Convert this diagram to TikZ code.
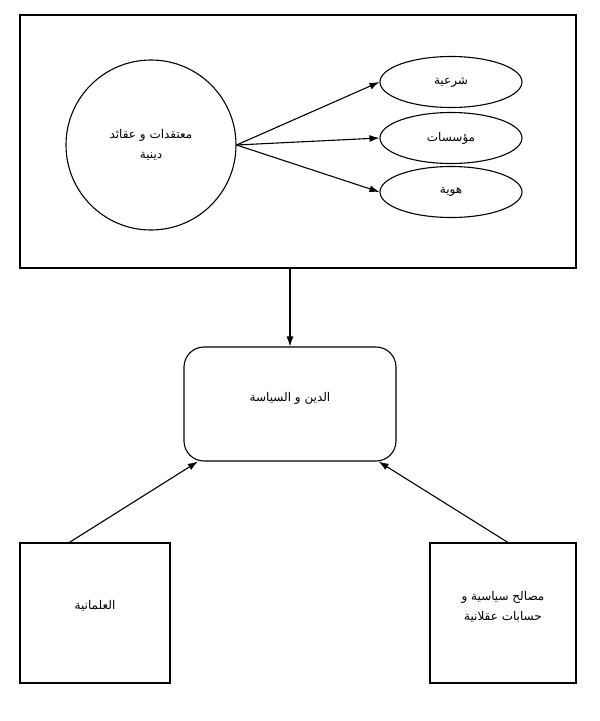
\documentclass[tikz,border=0pt]{standalone}
\usepackage{fontspec}
\TeXXeTstate=1
\newfontfamily\arabicfont[Script=Arabic]{DejaVu Sans}
\usetikzlibrary{shapes.geometric, arrows.meta}

\begin{document}
\begin{tikzpicture}[x=1pt, y=-1pt, >={Latex[length=10pt, width=7pt]},
    every node/.style={font=\arabicfont\fontsize{12}{20}\selectfont, align=center}]

    %--------------------%
    % Parameters
    %--------------------%
    \def\linethic{1.1pt}
    \def\ellx{451}
    \def\ellw{142}
    \def\ellh{51}

    \useasboundingbox (0,0) rectangle (600,721);

    %--------------------%
    % Top Frame
    %--------------------%
    \node[draw, rectangle, minimum width=556, minimum height=253, line width=\linethic] (frame) at (298,141.5) {};

    % Beliefs circle
    \node[draw, circle, minimum size=170, line width=\linethic] (belief) at (151,145) {\beginR معتقدات و عقائد\endR\\\beginR دينية\endR};

    % Ellipses
    \node[draw, ellipse, minimum width=\ellw, minimum height=\ellh, line width=\linethic] (legit) at (\ellx,82) {\beginR شرعية\endR};
    \node[draw, ellipse, minimum width=\ellw, minimum height=\ellh, line width=\linethic] (instit) at (\ellx,138) {\beginR مؤسسات\endR};
    \node[draw, ellipse, minimum width=\ellw, minimum height=\ellh, line width=\linethic] (ident) at (\ellx,192) {\beginR هوية\endR};

    %--------------------%
    % Center Box
    %--------------------%
    \node[draw, rectangle, rounded corners=20, minimum width=212, minimum height=114, line width=\linethic] (dinpol) at (290,404) {\beginR الدين و السياسة\endR\\[-6pt]};

    %--------------------%
    % Bottom Boxes
    %--------------------%
    \node[draw, rectangle, minimum width=150, minimum height=140, line width=\linethic] (secular) at (95,613) {\beginR العلمانية\endR\\[-4pt]};
    \node[draw, rectangle, minimum width=146, minimum height=140, line width=\linethic] (interest) at (503,613) {\beginR مصالح سياسية و\endR\\\beginR حسابات عقلانية\endR\\[-6pt]};

    %--------------------%
    % Connections
    %--------------------%
    \draw[->, line width=\linethic] (belief.east) -- (legit.west);
    \draw[->, line width=\linethic] (belief.east) -- (instit.west);
    \draw[->, line width=\linethic] (belief.east) -- (ident.west);

    \draw[->, line width=\linethic] (dinpol.north |- frame.south) -- (dinpol.north);
    \draw[->, line width=\linethic] (secular.110) -- (dinpol.212);
    \draw[->, line width=\linethic] (interest.86) -- (dinpol.327);
\end{tikzpicture}
\end{document}
